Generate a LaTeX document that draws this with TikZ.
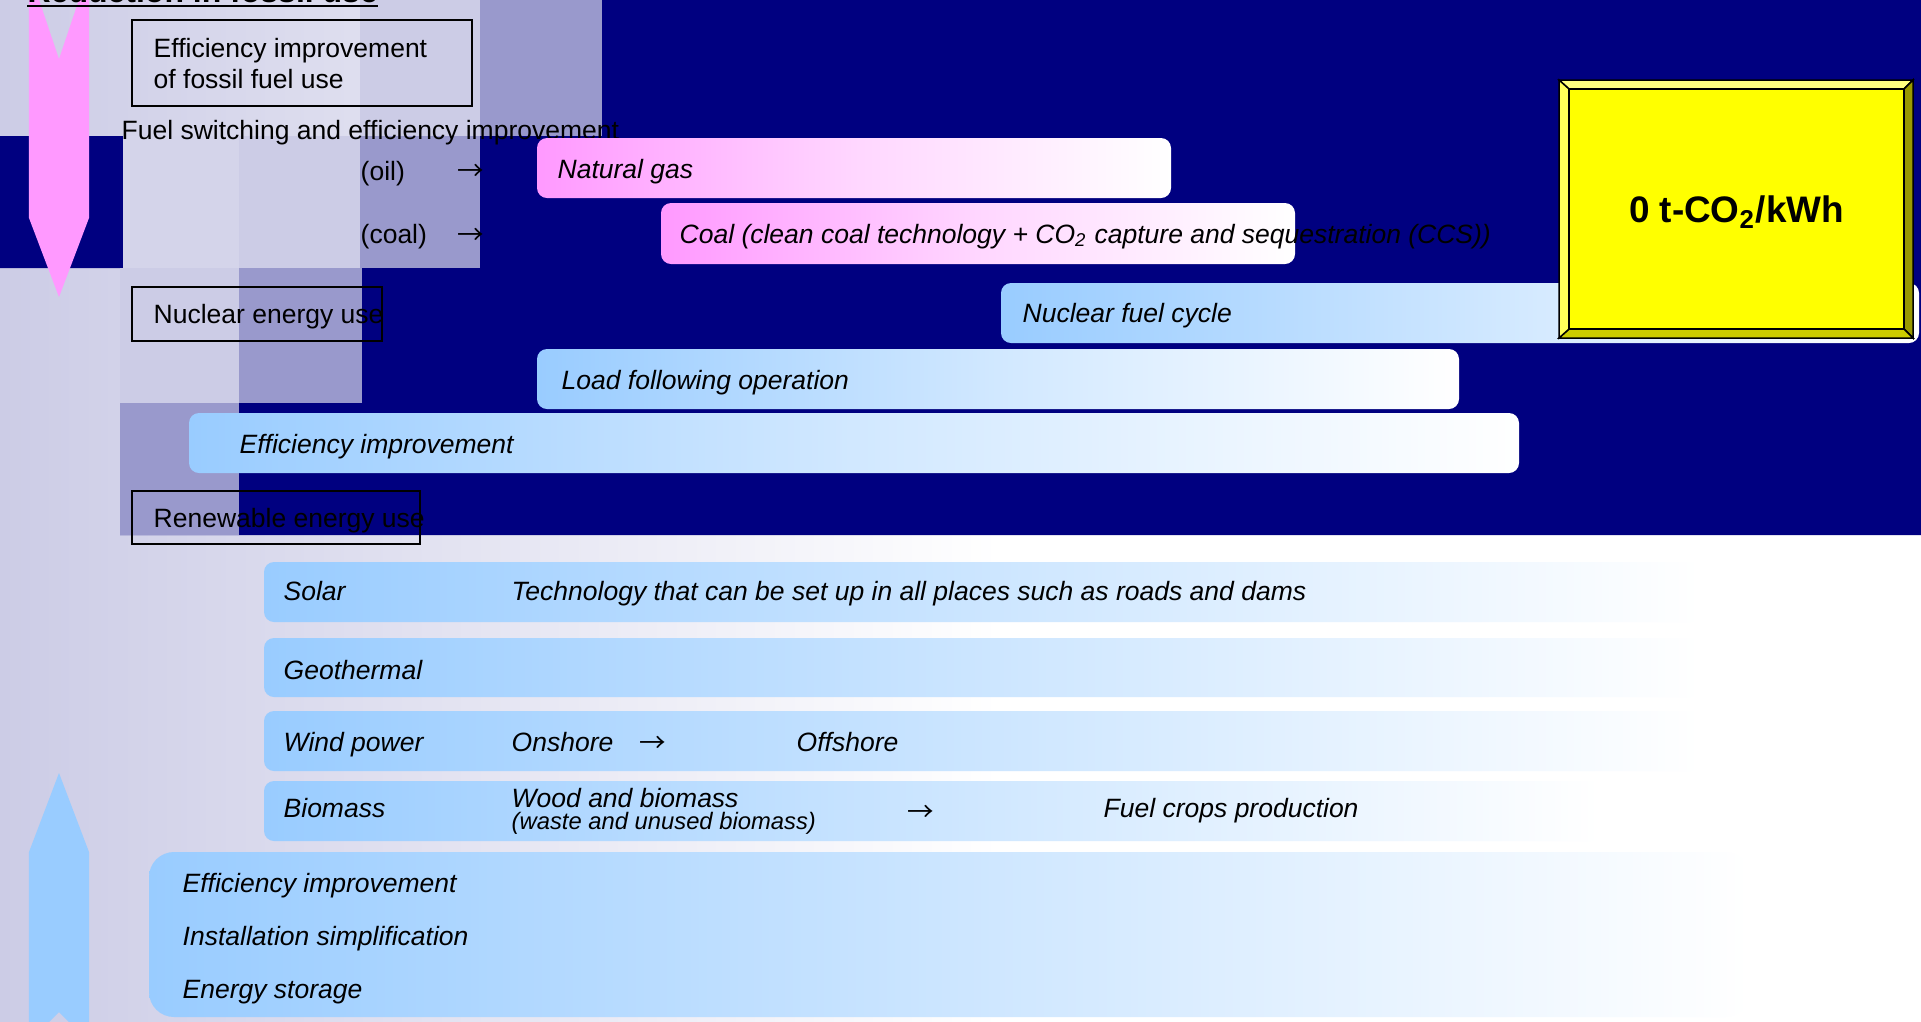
\documentclass[tikz,border=0pt]{standalone}
\usepackage{fontspec}
\setmainfont{Liberation Sans}
\newfontfamily\arrowfont{Noto Sans CJK JP}
\usepackage{tikz}
\definecolor{navyback}{RGB}{0, 0, 128}
\definecolor{lavender}{RGB}{204, 204, 230}
\definecolor{lilac}{RGB}{153, 153, 204}
\definecolor{palelilac}{RGB}{212, 212, 234}
\definecolor{barpink}{RGB}{255, 153, 255}
\definecolor{barblue}{RGB}{153, 204, 255}
\definecolor{zeroyellow}{RGB}{255, 255, 0}
\definecolor{beveltop}{RGB}{255, 255, 128}
\definecolor{bevelleft}{RGB}{255, 255, 90}
\definecolor{bevelmid}{RGB}{204, 204, 0}
\definecolor{beveldark}{RGB}{153, 153, 0}
\newcommand{\slidefont}{\fontsize{7.54}{9}\selectfont}
\newcommand{\slidesmall}{\fontsize{6.77}{8}\selectfont}
\newcommand{\slidetitle}{\fontsize{9.1}{11}\selectfont\bfseries}
\newcommand{\slidebig}{\fontsize{10.5}{12.5}\selectfont\bfseries}
\tikzset{
  txt/.style={anchor=base west, inner sep=0pt, font=\slidefont},
  itxt/.style={txt, font=\slidefont\itshape},
  arr/.style={txt, font=\slidefont\arrowfont},
  boxline/.style={draw=black, line width=0.02cm},
  pinkbar/.style={rounded corners=0.10cm, left color=barpink, right color=white, middle color=barpink!40},
  bluebar/.style={rounded corners=0.10cm, left color=barblue, right color=white, middle color=barblue!45},
  lowbar/.style={rounded corners=0.10cm, left color=barblue, right color=white},
}
\begin{document}
\begin{tikzpicture}
            \useasboundingbox (0.00, 0.00) rectangle (19.21,-10.21);
            \clip             (0.00, 0.00) rectangle (19.21,-10.21);
            \shade[left color=lavender, right color=white]               (0.00, 0.00) rectangle (10.00,-10.21);
            \fill[white]                                                 (10.00, 0.00) rectangle (19.21,-10.21);
            \fill[navyback] (6.02, 0.00) -- (19.21, 0.00) -- (19.21,-5.35) -- (1.20,-5.35) -- (1.20,-2.68) -- (0.00,-2.68) -- (0.00,-1.36) -- (6.02,-1.36) -- cycle;
            \fill[lavender]                                              (3.60, 0.00) rectangle (4.80,-1.36);
            \fill[lilac]                                                 (4.80, 0.00) rectangle (6.02,-1.36);
            \fill[palelilac]                                             (1.23,-1.36) rectangle (2.39,-2.68);
            \fill[lavender]                                              (2.39,-1.36) rectangle (3.60,-2.68);
            \fill[lilac]                                                 (3.60,-1.36) rectangle (4.80,-2.68);
            \fill[lavender]                                              (1.20,-2.68) rectangle (2.39,-4.03);
            \fill[lilac]                                                 (2.39,-2.68) rectangle (3.62,-4.03);
            \fill[lilac]                                                 (1.20,-4.03) rectangle (2.39,-5.35);
            \fill[barpink] (0.29, 0.30) -- (0.59,-0.59) -- (0.89, 0.30) -- (0.89,-2.18) -- (0.59,-2.97) -- (0.29,-2.18) -- cycle;
            \fill[barblue] (0.59,-7.73) -- (0.89,-8.52) -- (0.89,-10.42) -- (0.59,-10.12) -- (0.29,-10.42) -- (0.29,-8.52) -- cycle;

            \node[anchor=base west, inner sep=0pt, font=\slidetitle] (title) at (0.27,-0.025) {Reduction in fossil use};
            \draw[line width=0.02cm] ([yshift=-0.03cm]title.base west) -- ([yshift=-0.03cm]title.base east);

            \draw[boxline]                                               (1.32,-0.20) rectangle (4.72,-1.06);
            \node[txt] (fossila)     at (1.53,-0.57) {Efficiency improvement};
            \node[txt] (fossilb)     at (1.53,-0.88) {of fossil fuel use};
            \node[txt] (fuelswitch)  at (1.21,-1.39) {Fuel switching and efficiency improvement};
            \node[txt] (oil)         at (3.60,-1.80) {(oil)};
            \node[arr] (oilarrow)    at (4.57,-1.80) {→};
            \node[txt] (coal)        at (3.60,-2.43) {(coal)};
            \node[arr] (coalarrow)   at (4.57,-2.44) {→};
            \draw[boxline]                                               (1.32,-2.87) rectangle (3.82,-3.41);
            \node[txt] (nuclear)     at (1.53,-3.23) {Nuclear energy use};
            \draw[boxline]                                               (1.32,-4.91) rectangle (4.20,-5.44);
            \node[txt] (renewable)   at (1.53,-5.27) {Renewable energy use};

            \shade[pinkbar]                                              (5.37,-1.38) rectangle (11.71,-1.98);
            \node[itxt] (natgas)     at (5.57,-1.78) {Natural gas};
            \shade[pinkbar]                                              (6.61,-2.03) rectangle (12.95,-2.64);
            \node[itxt] (coalccs)    at (6.79,-2.43) {Coal (clean coal technology + CO\textsubscript{2} capture and sequestration (CCS))};
            \shade[lowbar]                                               (10.01,-2.83) rectangle (19.19,-3.43);
            \node[itxt] (fuelcycle)  at (10.22,-3.22) {Nuclear fuel cycle};
            \shade[bluebar]                                              (5.37,-3.49) rectangle (14.59,-4.09);
            \node[itxt] (loadfollow) at (5.61,-3.89) {Load following operation};
            \shade[bluebar]                                              (1.89,-4.13) rectangle (15.19,-4.73);
            \node[itxt] (effnuclear) at (2.39,-4.53) {Efficiency improvement};

            \shade[lowbar]                                               (2.64,-5.62) rectangle (17.00,-6.22);
            \node[itxt] (solar)      at (2.83,-6.00) {Solar};
            \node[itxt] (solartech)  at (5.11,-6.00) {Technology that can be set up in all places such as roads and dams};
            \shade[lowbar]                                               (2.64,-6.38) rectangle (17.00,-6.97);
            \node[itxt] (geo)        at (2.83,-6.79) {Geothermal};
            \shade[lowbar]                                               (2.64,-7.11) rectangle (17.00,-7.71);
            \node[itxt] (wind)       at (2.83,-7.51) {Wind power};
            \node[itxt] (onshore)    at (5.11,-7.51) {Onshore};
            \node[arr]  (windarrow)  at (6.39,-7.52) {→};
            \node[itxt] (offshore)   at (7.96,-7.51) {Offshore};
            \shade[lowbar]                                               (2.64,-7.81) rectangle (16.00,-8.41);
            \node[itxt] (biomass)    at (2.83,-8.17) {Biomass};
            \node[itxt] (wood)       at (5.11,-8.07) {Wood and biomass};
            \node[itxt, font=\slidesmall\itshape] (waste) at (5.11,-8.29) {(waste and unused biomass)};
            \node[arr]  (bioarrow)   at (9.07,-8.21) {→};
            \node[itxt] (fuelcrops)  at (11.03,-8.17) {Fuel crops production};
            \shade[lowbar, rounded corners=0.25cm]                       (1.49,-8.52) rectangle (17.50,-10.17);
            \node[itxt] (effrenew)   at (1.82,-8.92) {Efficiency improvement};
            \node[itxt] (install)    at (1.82,-9.45) {Installation simplification};
            \node[itxt] (storage)    at (1.82,-9.98) {Energy storage};

            \filldraw[fill=beveltop,  draw=black, line width=0.015cm] (15.59,-0.80) -- (19.13,-0.80) -- (19.04,-0.89) -- (15.69,-0.89) -- cycle;
            \filldraw[fill=beveldark, draw=black, line width=0.015cm] (19.13,-0.80) -- (19.13,-3.38) -- (19.04,-3.29) -- (19.04,-0.89) -- cycle;
            \filldraw[fill=bevelmid,  draw=black, line width=0.015cm] (19.13,-3.38) -- (15.59,-3.38) -- (15.69,-3.29) -- (19.04,-3.29) -- cycle;
            \filldraw[fill=bevelleft, draw=black, line width=0.015cm] (15.59,-3.38) -- (15.59,-0.80) -- (15.69,-0.89) -- (15.69,-3.29) -- cycle;
            \node[draw=black, fill=zeroyellow, line width=0.015cm, minimum width=3.35cm, minimum height=2.40cm, inner sep=0pt, text depth=0pt, font=\slidebig] (zeroco2) at (17.365,-2.09) {0 t-CO\textsubscript{2}/kWh};
\end{tikzpicture}
\end{document}
